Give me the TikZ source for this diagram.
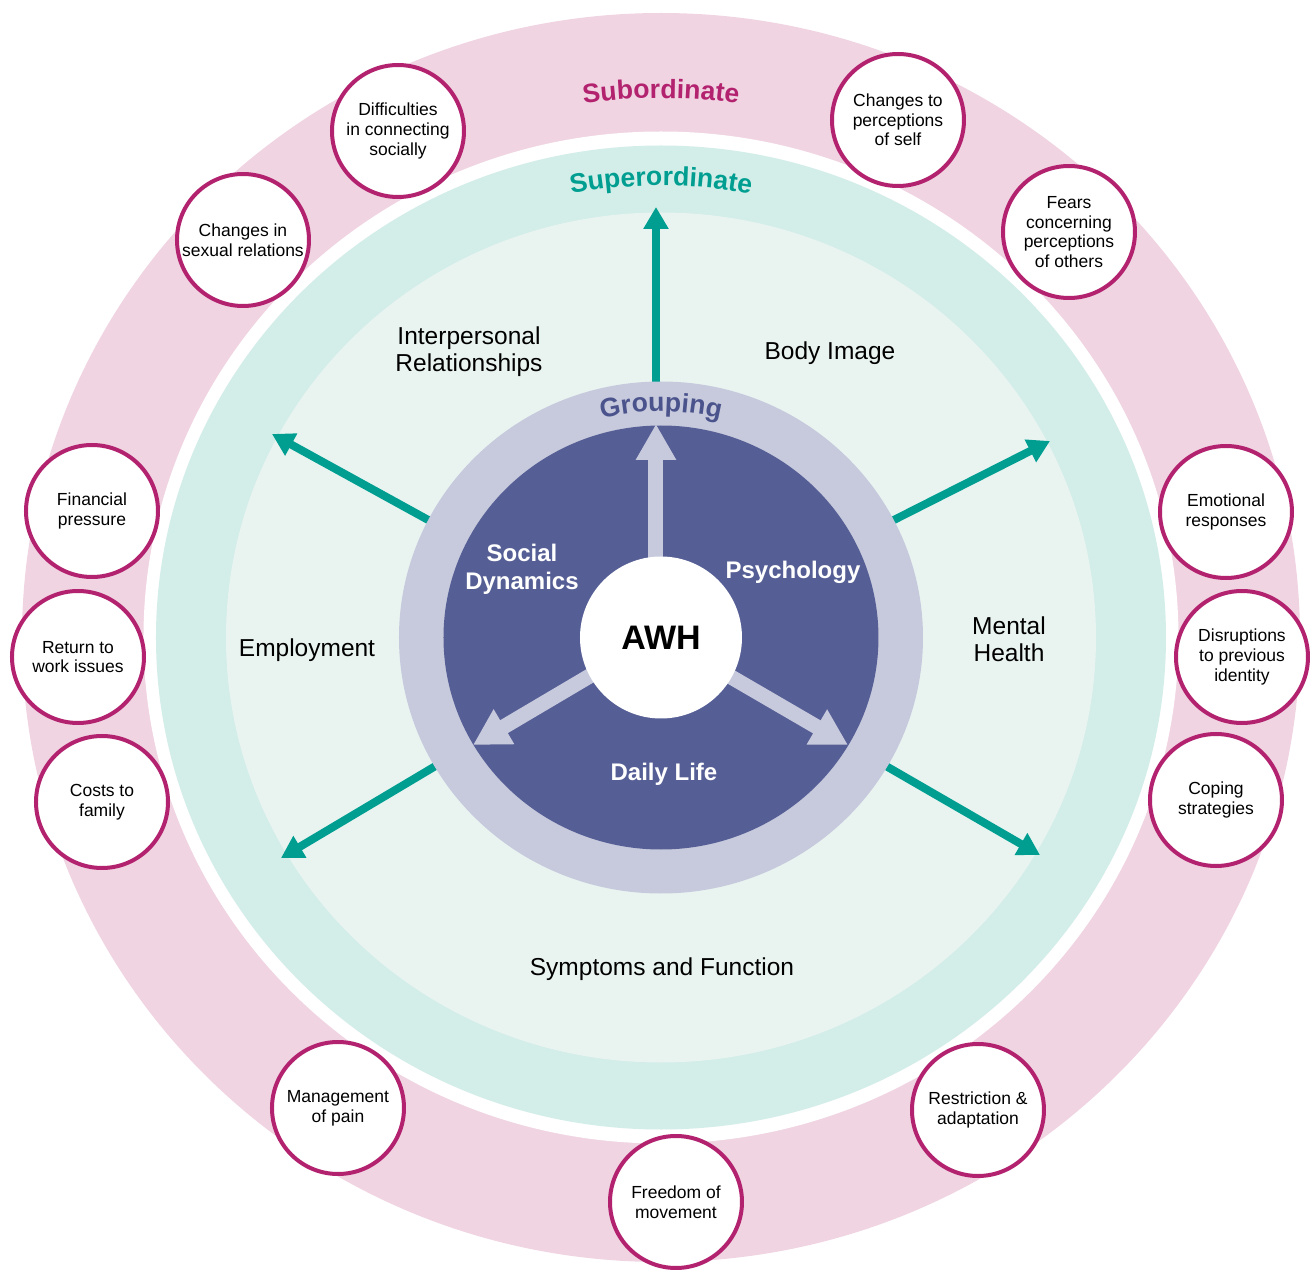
\documentclass[tikz,border=0pt]{standalone}
\usepackage{fontspec}
\setmainfont{Liberation Sans}
\usetikzlibrary{arrows.meta, decorations.text}

\definecolor{subpink}{HTML}{F0D4E2}
\definecolor{submag}{HTML}{B2226E}
\definecolor{superteal}{HTML}{D3EDE8}
\definecolor{innerteal}{HTML}{E9F4F1}
\definecolor{arrowteal}{HTML}{009E91}
\definecolor{grouplav}{HTML}{C7CADD}
\definecolor{groupblue}{HTML}{565F95}
\definecolor{grouptext}{HTML}{4B538C}

\newcommand{\ringfont}{\fontsize{13.3}{16}\selectfont\bfseries}

\tikzset{
    subtheme/.style={circle, draw=submag, line width=2pt, fill=white, minimum size=66pt, inner sep=0pt, align=center, font=\fontsize{8.75}{9.8}\selectfont},
    topic/.style={align=center, anchor=center, font=\fontsize{12.25}{13.5}\selectfont},
    grouplabel/.style={align=center, anchor=center, text=white, font=\fontsize{12}{14}\selectfont\bfseries},
    outarrow/.style={arrowteal, line width=4pt, -{Triangle[width=12pt, length=11pt]}},
    inarrow/.style={grouplav, line width=7.5pt, -{Triangle[width=19pt, length=18pt]}},
}

\begin{document}
\begin{tikzpicture}[x=0.5pt, y=0.5pt]
        \useasboundingbox (-661, -632.5) rectangle (653, 637.5);

        % rings
        \fill[subpink] (0, 0) ellipse [x radius=639, y radius=624.5];
        \fill[white] (0, 0) ellipse [x radius=517.5, y radius=506];
        \fill[superteal] (0, 0) ellipse [x radius=505, y radius=492];
        \fill[innerteal] (0, 0) ellipse [x radius=435, y radius=425];

        \path[decorate, decoration={text along path, text align=center, text={|\ringfont\color{submag}|Subordinate}}]
            (160:552 and 539) arc [start angle=160, end angle=20, x radius=552, y radius=539];
        \path[decorate, decoration={text along path, text align=center, text={|\ringfont\color{arrowteal}|Superordinate}}]
            (160:463 and 452) arc [start angle=160, end angle=20, x radius=463, y radius=452];

        % superordinate arrows
        \coordinate (out-up-s) at (-5, 240);
        \coordinate (out-up) at (-5, 430.5);
        \coordinate (out-ul-s) at (-220, 110.5);
        \coordinate (out-ul) at (-389, 203.5);
        \coordinate (out-ur-s) at (222, 112);
        \coordinate (out-ur) at (389, 196.5);
        \coordinate (out-ll-s) at (-212, -120.5);
        \coordinate (out-ll) at (-380, -220.5);
        \coordinate (out-lr-s) at (212, -121);
        \coordinate (out-lr) at (379, -217.5);

        \draw[outarrow] (out-up-s) -- (out-up);
        \draw[outarrow] (out-ul-s) -- (out-ul);
        \draw[outarrow] (out-ur-s) -- (out-ur);
        \draw[outarrow] (out-ll-s) -- (out-ll);
        \draw[outarrow] (out-lr-s) -- (out-lr);

        \fill[grouplav] (0, 0) ellipse [x radius=262, y radius=256];
        \fill[groupblue] (0, 0) ellipse [x radius=217.5, y radius=212];

        \path[decorate, decoration={text along path, text align=center, text={|\ringfont\color{grouptext}|Grouping}}]
            (150:241 and 226) arc [start angle=150, end angle=30, x radius=241, y radius=226];

        % grouping arrows
        \coordinate (in-up-s) at (-5, 40);
        \coordinate (in-up) at (-5, 213.5);
        \coordinate (in-ll-s) at (-40, -20);
        \coordinate (in-ll) at (-188, -107.5);
        \coordinate (in-lr-s) at (40, -22);
        \coordinate (in-lr) at (187, -107.5);

        \draw[inarrow] (in-up-s) -- (in-up);
        \draw[inarrow] (in-ll-s) -- (in-ll);
        \draw[inarrow] (in-lr-s) -- (in-lr);

        \node[circle, fill=white, minimum size=81pt, inner sep=0pt, font=\fontsize{17}{20}\selectfont\bfseries] (awh) at (0, 0) {AWH};

        \node[grouplabel] (social) at (-139, 68.5) {Social\\Dynamics};
        \node[grouplabel] (psych) at (132, 65.5) {Psychology};
        \node[grouplabel] (daily) at (3, -136.5) {Daily Life};

        \node[topic] (interp) at (-192, 285.5) {Interpersonal\\Relationships};
        \node[topic] (body) at (169, 284.5) {Body Image};
        \node[topic] (empl) at (-354, -12.5) {Employment};
        \node[topic] (mental) at (348, -1.5) {Mental\\Health};
        \node[topic] (sympt) at (1, -331.5) {Symptoms and Function};

        % subordinate themes
        \node[subtheme] (connect) at (-263, 506.5) {Difficulties\\in connecting\\socially};
        \node[subtheme] (sexual) at (-418, 397.5) {Changes in\\sexual relations};
        \node[subtheme] (selfperc) at (237, 517.5) {Changes to\\perceptions\\of self};
        \node[subtheme] (fears) at (408, 405.5) {Fears\\concerning\\perceptions\\of others};
        \node[subtheme] (finance) at (-569, 126.5) {Financial\\pressure};
        \node[subtheme] (work) at (-583, -19.5) {Return to\\work issues};
        \node[subtheme] (family) at (-559, -164.5) {Costs to\\family};
        \node[subtheme] (emotion) at (565, 125.5) {Emotional\\responses};
        \node[subtheme] (identity) at (581, -19.5) {Disruptions\\to previous\\identity};
        \node[subtheme] (coping) at (555, -162.5) {Coping\\strategies};
        \node[subtheme] (pain) at (-323, -470.5) {Management\\of pain};
        \node[subtheme] (freedom) at (15, -564.5) {Freedom of\\movement};
        \node[subtheme] (restrict) at (317, -472.5) {Restriction \&\\adaptation};
\end{tikzpicture}
\end{document}
